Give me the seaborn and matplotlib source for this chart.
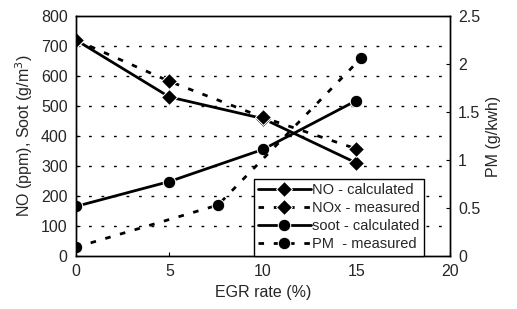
import matplotlib
matplotlib.use('Agg')
import matplotlib.pyplot as plt
import seaborn as sns

# data
egr_no = [0, 5, 10, 15]
no_calc = [720, 530, 458, 310]
egr_nox = [0, 5, 10, 15]
nox_meas = [720, 582, 462, 357]
egr_soot = [0, 5, 10, 15]
soot_calc = [165, 248, 355, 518]
egr_pm = [0, 7.6, 15.25]
pm_meas = [0.09, 0.53, 2.06]

sns.set_style('ticks')
plt.rcParams['font.family'] = ['Liberation Sans', 'DejaVu Sans']
plt.rcParams['font.size'] = 11.5

fig = plt.figure(figsize=(5.17, 3.09), dpi=100)
ax = fig.add_axes([0.147, 0.172, 0.723, 0.776])
ax2 = ax.twinx()

dot = (0, (2, 3.5))
sns.lineplot(x=egr_no, y=no_calc, ax=ax, color='black', lw=2, marker='D',
             markersize=8, legend=False)
sns.lineplot(x=egr_nox, y=nox_meas, ax=ax, color='black', lw=2, linestyle=dot,
             marker='D', markersize=8, legend=False)
sns.lineplot(x=egr_soot, y=soot_calc, ax=ax, color='black', lw=2, marker='o',
             markersize=9, legend=False)
sns.lineplot(x=egr_pm, y=pm_meas, ax=ax2, color='black', lw=2, linestyle=dot,
             marker='o', markersize=9, legend=False)

ax.set_xlim(0, 20)
ax.set_ylim(0, 800)
ax.set_xticks([0, 5, 10, 15, 20])
ax.set_yticks(range(0, 900, 100))
ax2.set_ylim(0, 2.5)
ax2.set_yticks([0, 0.5, 1, 1.5, 2, 2.5])
ax2.set_yticklabels(['0', '0.5', '1', '1.5', '2', '2.5'])

for y in range(100, 800, 100):
    ax.axhline(y, color='black', lw=1, linestyle=(0, (2, 7)), zorder=0)

for a in (ax, ax2):
    a.tick_params(direction='in', length=3, color='black', pad=6)
    for s in a.spines.values():
        s.set_color('black')
        s.set_linewidth(1)

ax.set_xlabel('EGR rate (%)')
ax.set_ylabel('NO (ppm), Soot (g/m$^3$)')
ax2.set_ylabel('PM (g/kwh)')

lines = ax.get_lines()[:3] + ax2.get_lines()[:1]
labels = ['NO - calculated', 'NOx - measured', 'soot - calculated', 'PM  - measured']
leg = ax2.legend(lines, labels, loc='lower right', bbox_to_anchor=(0.932, 0.0),
                 frameon=True, fancybox=False, edgecolor='black', framealpha=1,
                 borderpad=0.3, labelspacing=0.28, handlelength=3.6,
                 handletextpad=0.1, fontsize=10.5, borderaxespad=0)
leg.get_frame().set_linewidth(1)

fig.savefig('out.png', dpi=100)
